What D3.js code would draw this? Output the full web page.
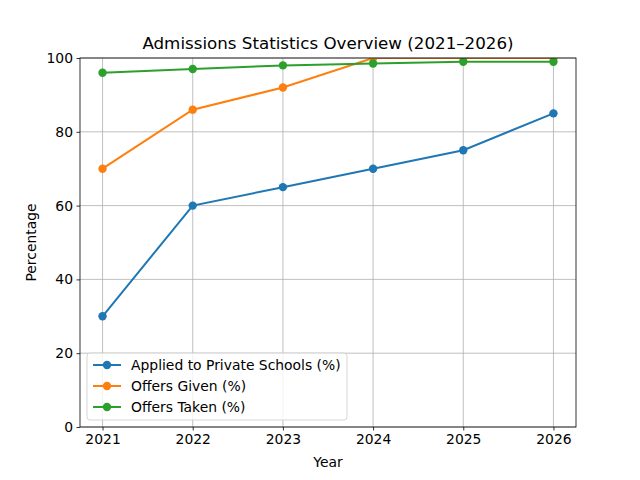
<!DOCTYPE html>
<html>
<head>
<meta charset="utf-8">
<script src="https://cdn.jsdelivr.net/npm/d3@7"></script>
<style>
  body { margin: 0; background: #fff; }
  svg { font-family: "DejaVu Sans", sans-serif; }
</style>
</head>
<body>
<svg id="chart" width="640" height="480"></svg>
<script>
const years = [2021, 2022, 2023, 2024, 2025, 2026];
const applied = [30, 60, 65, 70, 75, 85];
const offersGiven = [70, 86, 92, 100, 100, 100];
const offersTaken = [96, 97, 98, 98.5, 99, 99];
const seriesNames = ['Applied to Private Schools (%)', 'Offers Given (%)', 'Offers Taken (%)'];
const colors = ['#1f77b4', '#ff7f0e', '#2ca02c'];

const svg = d3.select('#chart');
const margin = { left: 80, right: 64, top: 58, bottom: 53 };
const width = 640 - margin.left - margin.right;
const height = 480 - margin.top - margin.bottom;

const x = d3.scaleLinear().domain([2020.75, 2026.25]).range([0, width]);
const y = d3.scaleLinear().domain([0, 100]).range([height, 0]);

const g = svg.append('g').attr('transform', `translate(${margin.left},${margin.top})`);

svg.append('defs').append('clipPath').attr('id', 'clip')
  .append('rect').attr('width', width).attr('height', height);

// grid
g.append('g').selectAll('line').data(years).enter().append('line')
  .attr('x1', d => x(d)).attr('x2', d => x(d))
  .attr('y1', 0).attr('y2', height)
  .attr('stroke', '#b0b0b0').attr('stroke-width', 0.8);
g.append('g').selectAll('line').data(d3.range(0, 101, 20)).enter().append('line')
  .attr('x1', 0).attr('x2', width)
  .attr('y1', d => y(d)).attr('y2', d => y(d))
  .attr('stroke', '#b0b0b0').attr('stroke-width', 0.8);

// axes
const xAxis = g.append('g').attr('transform', `translate(0,${height})`)
  .call(d3.axisBottom(x).tickValues(years).tickFormat(d3.format('d')).tickSize(3.5).tickPadding(3.5));
const yAxis = g.append('g')
  .call(d3.axisLeft(y).tickValues(d3.range(0, 101, 20)).tickSize(3.5).tickPadding(3.5));
[xAxis, yAxis].forEach(a => {
  a.select('.domain').remove();
  a.selectAll('text').attr('font-size', 13.9).attr('fill', '#000').attr('font-family', 'DejaVu Sans');
  a.selectAll('line').attr('stroke', '#000').attr('stroke-width', 0.8);
});

// series
const data = [applied, offersGiven, offersTaken];
const line = d3.line().x((d, i) => x(years[i])).y(d => y(d));
const plot = g.append('g').attr('clip-path', 'url(#clip)');
data.forEach((vals, k) => {
  plot.append('path').datum(vals)
    .attr('d', line).attr('fill', 'none')
    .attr('stroke', colors[k]).attr('stroke-width', 2);
  plot.selectAll(null).data(vals).enter().append('circle')
    .attr('cx', (d, i) => x(years[i])).attr('cy', d => y(d))
    .attr('r', 4.2).attr('fill', colors[k]);
});

// frame
g.append('rect').attr('width', width).attr('height', height)
  .attr('fill', 'none').attr('stroke', '#000').attr('stroke-width', 0.8);

// labels
svg.append('text').attr('x', margin.left + width / 2).attr('y', 49)
  .attr('text-anchor', 'middle').attr('font-size', 16.7).text('Admissions Statistics Overview (2021–2026)');
svg.append('text').attr('x', margin.left + width / 2).attr('y', 467)
  .attr('text-anchor', 'middle').attr('font-size', 13.9).text('Year');
svg.append('text').attr('transform', `translate(36,${margin.top + height / 2}) rotate(-90)`)
  .attr('text-anchor', 'middle').attr('font-size', 13.9).text('Percentage');

// legend
const lg = g.append('g').attr('transform', 'translate(7,295)');
lg.append('rect').attr('width', 260).attr('height', 67).attr('rx', 3)
  .attr('fill', '#fff').attr('fill-opacity', 0.8).attr('stroke', '#ccc').attr('stroke-width', 0.8);
seriesNames.forEach((name, k) => {
  const row = lg.append('g').attr('transform', `translate(0,${12 + k * 21})`);
  row.append('line').attr('x1', 6).attr('x2', 34).attr('stroke', colors[k]).attr('stroke-width', 2);
  row.append('circle').attr('cx', 20).attr('r', 4.2).attr('fill', colors[k]);
  row.append('text').attr('x', 44).attr('dy', '0.35em').attr('font-size', 13.9).text(name);
});
</script>
</body>
</html>
